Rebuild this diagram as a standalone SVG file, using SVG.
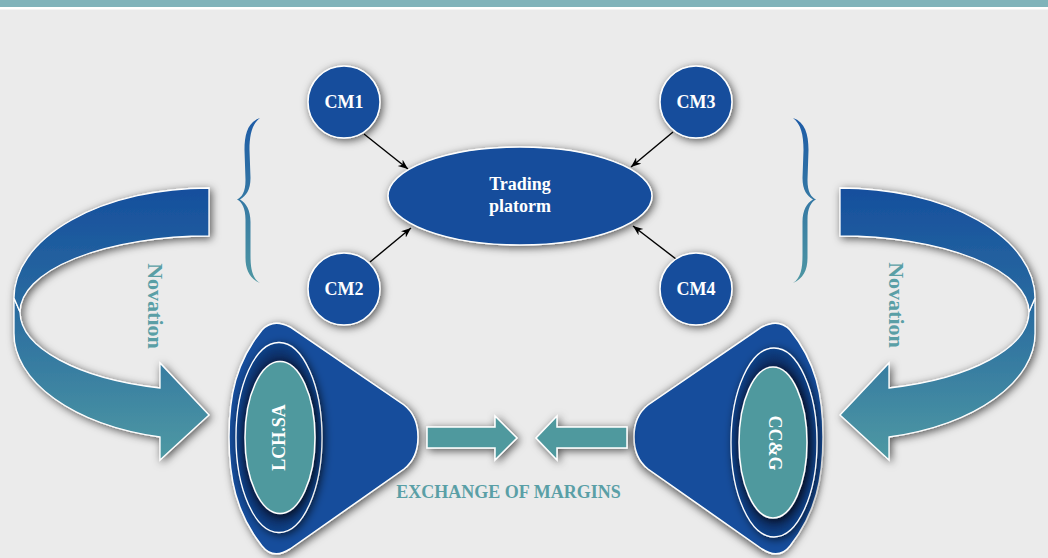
<svg xmlns="http://www.w3.org/2000/svg" width="1048" height="558" viewBox="0 0 1048 558">
<defs>
<style>
.node{fill:#124E9C;stroke:#FFFFFF;stroke-width:1.5}
.teal{fill:#4F999E;stroke:#FFFFFF;stroke-width:1.5}
.ring{fill:url(#rg);stroke:#FFFFFF;stroke-width:1.3}
.lbl{font-family:"Liberation Serif","Times New Roman",serif;font-weight:bold;fill:#FFFFFF;text-anchor:middle}
.tlbl{font-family:"Liberation Serif","Times New Roman",serif;font-weight:bold;fill:#5A9FA6;text-anchor:middle}
.conn{stroke:#000000;stroke-width:1.4;fill:none;marker-end:url(#ah)}
.brace{fill:url(#bg);stroke:none}
</style>
<filter id="sh" x="-25%" y="-25%" width="150%" height="150%">
<feGaussianBlur in="SourceAlpha" stdDeviation="4"/>
<feOffset dx="1.5" dy="2" result="b"/>
<feFlood flood-color="#000000" flood-opacity="0.65"/>
<feComposite in2="b" operator="in"/>
<feMerge><feMergeNode/><feMergeNode in="SourceGraphic"/></feMerge>
</filter>
<linearGradient id="cg" gradientUnits="userSpaceOnUse" x1="0" y1="186" x2="0" y2="462">
<stop offset="0" stop-color="#154E9D"/>
<stop offset="0.45" stop-color="#2A6CA0"/>
<stop offset="1" stop-color="#4F9AA3"/>
</linearGradient>
<linearGradient id="bg" gradientUnits="userSpaceOnUse" x1="0" y1="118" x2="0" y2="284">
<stop offset="0" stop-color="#1D5BA6"/>
<stop offset="1" stop-color="#4E97A2"/>
</linearGradient>
<radialGradient id="rg" cx="0.5" cy="0.5" r="0.5">
<stop offset="0.7" stop-color="#031A42"/>
<stop offset="1" stop-color="#0F4289"/>
</radialGradient>
<marker id="ah" markerWidth="12" markerHeight="10" refX="10" refY="4" orient="auto" markerUnits="userSpaceOnUse">
<path d="M0,0 L10,4 L0,8 L3,4 Z" fill="#000000"/>
</marker>
</defs>

<rect x="0" y="0" width="1048" height="558" fill="#EBEBEB"/>
<rect x="0" y="0" width="1048" height="7" fill="#80B3BA"/>
<rect x="0" y="7" width="1048" height="2.5" fill="#FFFFFF"/>

<g id="braces">
<path id="brace-left" class="brace" d="M 260,118 C 248,122 244.5,134 244.5,150 L 245.5,180 C 245.5,192 242,197 237,199.5 C 242,202 245.5,208 245.5,220 L 245.5,258 C 245.5,270 250,279 260,283 C 252,278 250.5,268 250.5,255 L 250.5,222 C 250.5,210 246,203 240,199.5 C 246,196 250.5,190 250.5,178 L 249.5,150 C 249.5,135 252,124 260,118 Z"/>
<path id="brace-right" class="brace" transform="translate(1053,0) scale(-1,1)" d="M 260,118 C 248,122 244.5,134 244.5,150 L 245.5,180 C 245.5,192 242,197 237,199.5 C 242,202 245.5,208 245.5,220 L 245.5,258 C 245.5,270 250,279 260,283 C 252,278 250.5,268 250.5,255 L 250.5,222 C 250.5,210 246,203 240,199.5 C 246,196 250.5,190 250.5,178 L 249.5,150 C 249.5,135 252,124 260,118 Z"/>
</g>

<g id="novation-left" filter="url(#sh)">
<path d="M 14,298 L 14,333 A 195,107 0 0 0 160,437 L 160,460 L 209,415 L 160,363 L 160,388 A 189,79 0 0 1 20,312 Z" fill="url(#cg)" stroke="#FFFFFF" stroke-width="1.3"/>
<path d="M 209,188 A 195,110 0 0 0 14,298 L 20,312 A 189,76 0 0 1 209,236 Z" fill="url(#cg)" stroke="#FFFFFF" stroke-width="1.3"/>
</g>
<g id="novation-right" filter="url(#sh)">
<g transform="translate(1049,0) scale(-1,1)">
<path d="M 14,298 L 14,333 A 195,107 0 0 0 160,437 L 160,460 L 209,415 L 160,363 L 160,388 A 189,79 0 0 1 20,312 Z" fill="url(#cg)" stroke="#FFFFFF" stroke-width="1.3"/>
<path d="M 209,188 A 195,110 0 0 0 14,298 L 20,312 A 189,76 0 0 1 209,236 Z" fill="url(#cg)" stroke="#FFFFFF" stroke-width="1.3"/>
</g>
</g>
<text class="tlbl" font-size="22" transform="translate(148,306) rotate(90)">Novation</text>
<text class="tlbl" font-size="22" transform="translate(889,305) rotate(90)">Novation</text>

<g id="connectors">
<line class="conn" x1="364" y1="134" x2="408" y2="169"/>
<line class="conn" x1="370" y1="262" x2="411" y2="228"/>
<line class="conn" x1="673" y1="132" x2="631" y2="167"/>
<line class="conn" x1="676" y1="259" x2="633" y2="226"/>
</g>

<g id="node-trading" filter="url(#sh)">
<ellipse class="node" cx="520" cy="196" rx="132" ry="49"/>
</g>
<text class="lbl" font-size="18" x="520" y="190">Trading</text>
<text class="lbl" font-size="18" x="520" y="212">platorm</text>

<g id="node-cm1"><circle class="node" cx="344" cy="102" r="36" filter="url(#sh)"/><text class="lbl" font-size="18" x="344" y="108">CM1</text></g>
<g id="node-cm2"><circle class="node" cx="344" cy="289" r="36" filter="url(#sh)"/><text class="lbl" font-size="18" x="344" y="295">CM2</text></g>
<g id="node-cm3"><circle class="node" cx="696" cy="102" r="36" filter="url(#sh)"/><text class="lbl" font-size="18" x="696" y="108">CM3</text></g>
<g id="node-cm4"><circle class="node" cx="696" cy="289" r="36" filter="url(#sh)"/><text class="lbl" font-size="18" x="696" y="295">CM4</text></g>

<g id="node-lch">
<path class="node" filter="url(#sh)" d="M 404,405 Q 418,416 418,437 Q 418,458 404,469 L 290,549 Q 273,560 262,546 C 236,513 229,478 229,437 C 229,396 236,362 262,330 Q 273,318 290,327 Z"/>
<ellipse class="ring" cx="279" cy="437.5" rx="43" ry="95" filter="url(#sh)"/>
<ellipse class="teal" cx="280" cy="437.5" rx="35" ry="76" filter="url(#sh)"/>
<text class="lbl" font-size="18" transform="translate(285,437.5) rotate(-90)">LCH.SA</text>
</g>

<g id="node-ccg">
<path class="node" filter="url(#sh)" transform="translate(1052,0) scale(-1,1)" d="M 404,405 Q 418,416 418,437 Q 418,458 404,469 L 290,549 Q 273,560 262,546 C 236,513 229,478 229,437 C 229,396 236,362 262,330 Q 273,318 290,327 Z"/>
<ellipse class="ring" cx="774" cy="442.5" rx="43" ry="94.5" filter="url(#sh)"/>
<ellipse class="teal" cx="773" cy="442.5" rx="34" ry="75.5" filter="url(#sh)"/>
<text class="lbl" font-size="18" transform="translate(769,443) rotate(90)">CC&amp;G</text>
</g>

<g id="exchange-arrows" filter="url(#sh)">
<path class="teal" d="M 427,427 L 495,427 L 495,416 L 517,438 L 495,460 L 495,448 L 427,448 Z"/>
<path class="teal" d="M 627,427 L 557,427 L 557,416 L 536,438 L 557,460 L 557,448 L 627,448 Z"/>
</g>
<text class="tlbl" font-size="18" x="508.5" y="498">EXCHANGE OF MARGINS</text>
</svg>
